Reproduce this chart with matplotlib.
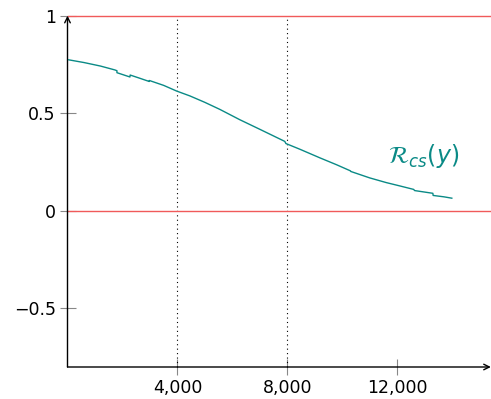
import numpy as np
import matplotlib.pyplot as plt

# reliability curve, read point by point (steps kept as repeated x values)
x_vals = [0, 600, 1200, 1727, 1800, 1800, 2273, 2280, 2600, 2975, 2980, 3500,
          3971, 4455, 5000, 5545, 6273, 7000, 7909, 7950, 8455, 9182, 9800,
          10300, 10310, 11000, 11600, 12091, 12600, 12636, 13300, 13310,
          13700, 13990]
y_vals = [0.775, 0.760, 0.742, 0.722, 0.718, 0.708, 0.686, 0.696, 0.681, 0.663, 0.668, 0.643,
          0.614, 0.589, 0.556, 0.520, 0.467, 0.418, 0.356, 0.345, 0.316, 0.272, 0.236,
          0.205, 0.202, 0.169, 0.145, 0.128, 0.110, 0.104, 0.090, 0.079,
          0.072, 0.065]

xticks = [4000, 8000, 12000]
xtick_labels = ['4,000', '8,000', '12,000']
yticks = [-0.5, 0, 0.5, 1]
ytick_labels = ['\u22120.5', '0', '0.5', '1']
ref_levels = [0, 1]
marker_x = [4000, 8000]

plt.rcParams['font.family'] = ['DejaVu Sans']
plt.rcParams['mathtext.fontset'] = 'dejavusans'

fig = plt.figure(figsize=(4.91, 3.99), dpi=100)
ax = fig.add_axes([67.5 / 491, 32 / 399, (490 - 67.5) / 491, (367 - 15.7) / 399])
ax.set_xlim(0, 15380)
ax.set_ylim(-0.8, 1.0)

for xv in marker_x:
    ax.plot([xv, xv], [-0.8, 1.0], color='black', lw=0.8, ls=(0, (1, 3)), clip_on=False)
for lv in ref_levels:
    ax.axhline(lv, color='#f05a5a', lw=1.0, clip_on=False, zorder=3)

ax.plot(x_vals, y_vals, color='#0a8a86', lw=1.0, zorder=4)
ax.text(12950, 0.28, r'$\mathcal{R}_{cs}(y)$', color='#0a8a86', fontsize=17,
        ha='center', va='center')

for s in ['top', 'right', 'left', 'bottom']:
    ax.spines[s].set_visible(False)
ax.annotate('', xy=(0, 1.0), xytext=(0, 0), xycoords='axes fraction',
            arrowprops=dict(arrowstyle='->', lw=1.0, color='black', shrinkA=0, shrinkB=0))
ax.annotate('', xy=(1.002, 0), xytext=(0, 0), xycoords='axes fraction',
            arrowprops=dict(arrowstyle='->', lw=1.0, color='black', shrinkA=0, shrinkB=0))

ax.set_xticks(xticks)
ax.set_xticklabels(xtick_labels)
ax.set_yticks(yticks)
ax.set_yticklabels(ytick_labels)
ax.tick_params(direction='inout', length=11, width=0.8, color='#888888',
               labelsize=12.5, pad=3)

fig.savefig('out.png', dpi=100)
